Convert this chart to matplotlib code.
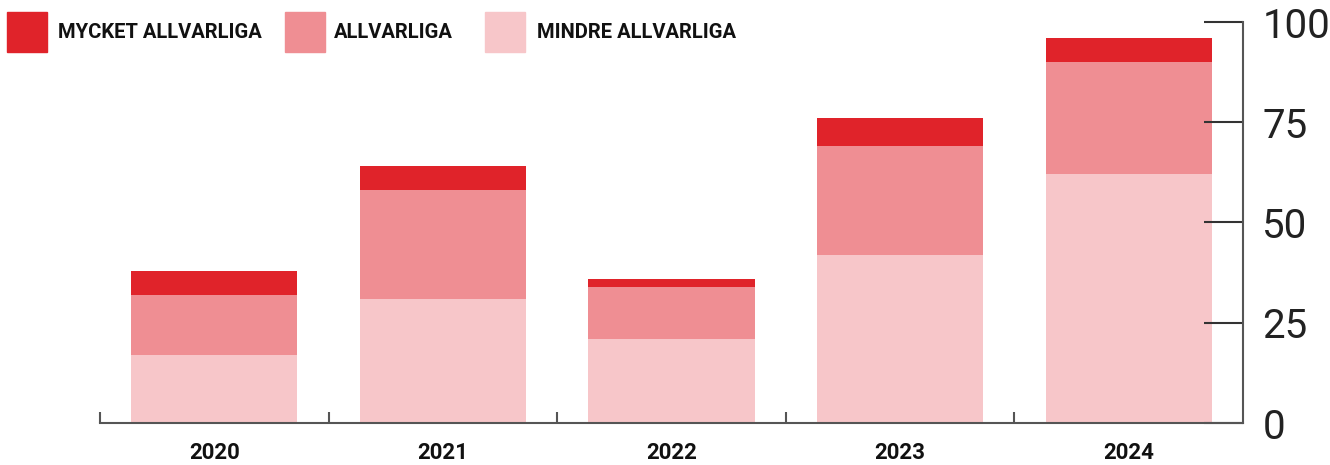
import numpy as np
import matplotlib.pyplot as plt
from matplotlib.patches import Rectangle

years = ['2020', '2021', '2022', '2023', '2024']
mindre = [17, 31, 21, 42, 62]
allvarliga = [15, 27, 13, 27, 28]
mycket = [6, 6, 2, 7, 6]

labels = ['MYCKET ALLVARLIGA', 'ALLVARLIGA', 'MINDRE ALLVARLIGA']
colors = ['#E0232A', '#EF8E93', '#F7C6C9']

plt.rcParams['font.family'] = ['Roboto', 'DejaVu Sans']

fig = plt.figure(figsize=(13.3, 4.65), dpi=100)
ax = fig.add_axes([100 / 1330, 1 - 423 / 465, 1143 / 1330, 401 / 465])

x = np.arange(len(years))
w = 0.727
ax.bar(x, mindre, w, color=colors[2])
ax.bar(x, allvarliga, w, bottom=mindre, color=colors[1])
ax.bar(x, mycket, w, bottom=np.add(mindre, allvarliga), color=colors[0])

ax.set_xlim(-0.5, 4.5)
ax.set_ylim(0, 100)

for s in ['top', 'left']:
    ax.spines[s].set_visible(False)
for s in ['right', 'bottom']:
    ax.spines[s].set_color('#555555')
    ax.spines[s].set_linewidth(1.5)

ax.yaxis.tick_right()
ax.set_yticks([0, 25, 50, 75, 100])
ax.tick_params(axis='y', direction='in', length=28, width=1.5, color='#333333',
               pad=14, labelsize=29, labelcolor='#222222')

ax.set_xticks(x)
ax.set_xticklabels(years, fontweight='bold')
ax.tick_params(axis='x', length=0, pad=14, labelsize=16, labelcolor='#111111')
ax.set_xticks(np.arange(-0.5, 4.0, 1.0), minor=True)
ax.tick_params(axis='x', which='minor', direction='in', length=8, width=1.5, color='#555555')

# legend drawn manually along the top
lx = [7, 285, 485]
tx = [58, 334, 537]
for i in range(3):
    fig.patches.append(Rectangle((lx[i] / 1330, 1 - 52 / 465), 40 / 1330, 40 / 465,
                                 transform=fig.transFigure, color=colors[i]))
    fig.text(tx[i] / 1330, 1 - 32 / 465, labels[i], fontsize=14.5, fontweight='bold',
             va='center', ha='left', color='#111111')

plt.savefig('out.png', dpi=100)
